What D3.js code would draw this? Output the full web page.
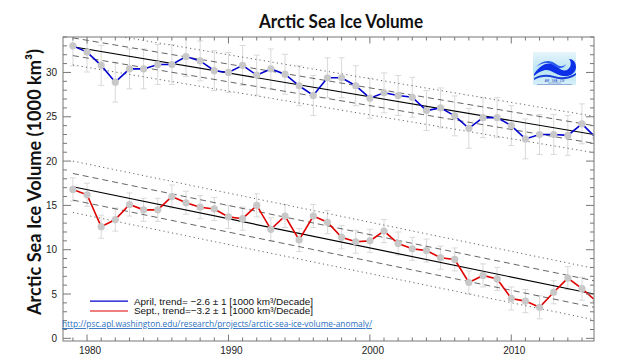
<!DOCTYPE html>
<html><head><meta charset="utf-8">
<script src="https://cdn.jsdelivr.net/npm/d3@7"></script>
<style>body{margin:0;background:#fff}svg{display:block}</style>
</head><body>
<svg id="c" width="640" height="360"></svg>
<script>
const years = [1979,1980,1981,1982,1983,1984,1985,1986,1987,1988,1989,1990,1991,1992,1993,1994,1995,1996,1997,1998,1999,2000,2001,2002,2003,2004,2005,2006,2007,2008,2009,2010,2011,2012,2013,2014,2015,2016];
const aprilVol = [33.0,32.3,30.8,28.9,30.4,30.4,30.9,30.9,31.8,31.3,30.2,30.0,30.8,29.7,30.4,29.8,28.5,27.4,29.4,29.4,28.5,27.1,27.7,27.4,27.2,25.7,26.0,25.1,23.7,24.9,24.9,24.0,22.5,23.0,23.0,22.9,24.2,22.6];
const septVol = [16.8,16.2,12.6,13.4,15.1,14.5,14.5,16.0,15.3,14.8,14.6,13.7,13.5,15.0,12.3,13.8,11.1,13.8,13.1,11.4,10.9,11.0,12.1,10.7,10.1,9.9,9.1,8.9,6.3,7.1,6.7,4.5,4.2,3.5,5.2,6.8,5.6,4.2];
const aprilErr = [2.25];
const septErr = [1.3];
// trend lines: [year, value] endpoints
const aprilTrend = [[1979, 32.9], [2015.85, 23.0]];
const septTrend = [[1979, 17.1], [2015.85, 5.0]];
// band offsets: [dashed, dotted]
const aprilBands = [1.0, 2.05];
const septBands = [1.5, 2.9];
const xMajor = [1980, 1990, 2000, 2010];
const yMajor = [0, 5, 10, 15, 20, 25, 30];
const legendLabels = ["April, trend= \u22122.6 \u00b1 1 [1000 km\u00b3/Decade]", "Sept., trend=\u22123.2 \u00b1 1 [1000 km\u00b3/Decade]"];
const titleText = "Arctic Sea Ice Volume";
const yTitle = "Arctic Sea Ice Volume (1000 km\u00b3)";
const urlText = "http://psc.apl.washington.edu/research/projects/arctic-sea-ice-volume-anomaly/";

const L = 63, R = 594, T = 37, B = 341;
const svg = d3.select("#c");
const x = d3.scaleLinear().domain([1978.3, 2015.85]).range([L, R]);
const y = d3.scaleLinear().domain([-0.3, 34.0]).range([B, T]);

const defs = svg.append("defs");
defs.append("clipPath").attr("id", "clip")
  .append("rect").attr("x", L).attr("y", T).attr("width", R - L).attr("height", B - T);
const grad = defs.append("linearGradient").attr("id", "lg").attr("x1", 0).attr("y1", 0).attr("x2", 0).attr("y2", 1);
grad.append("stop").attr("offset", "0%").attr("stop-color", "#e6f5fb");
grad.append("stop").attr("offset", "55%").attr("stop-color", "#b9e4f3");
grad.append("stop").attr("offset", "100%").attr("stop-color", "#d6eff8");

// title
svg.append("text").attr("x", 341).attr("y", 27.5).attr("text-anchor", "middle")
  .attr("font-family", "Lato, 'Open Sans', sans-serif").attr("font-weight", "bold")
  .attr("font-size", 19).attr("fill", "#111").text(titleText)
  .attr("textLength", 164).attr("lengthAdjust", "spacingAndGlyphs");

// y title
svg.append("text").attr("transform", "translate(41,182) rotate(-90)").attr("text-anchor", "middle")
  .attr("font-family", "Lato, 'Open Sans', sans-serif").attr("font-weight", "bold")
  .attr("font-size", 19).attr("fill", "#111").text(yTitle)
  .attr("textLength", 266).attr("lengthAdjust", "spacingAndGlyphs");

const plot = svg.append("g").attr("clip-path", "url(#clip)");

function drawSeries(vals, err, trend, bands, color) {
  const eb = plot.append("g").attr("stroke", "#d9d9d9").attr("stroke-width", 1);
  vals.forEach((v, i) => {
    const xx = x(years[i]);
    eb.append("line").attr("x1", xx).attr("x2", xx).attr("y1", y(v - err[0])).attr("y2", y(v + err[0]));
    eb.append("line").attr("x1", xx - 3).attr("x2", xx + 3).attr("y1", y(v - err[0])).attr("y2", y(v - err[0]));
    eb.append("line").attr("x1", xx - 3).attr("x2", xx + 3).attr("y1", y(v + err[0])).attr("y2", y(v + err[0]));
  });
  const styles = [{d: "6,4", c: "#555", w: 0.9}, {d: "1.2,3.2", c: "#555", w: 0.9}];
  bands.forEach((off, k) => {
    [1, -1].forEach(s => {
      plot.append("line")
        .attr("x1", x(trend[0][0])).attr("y1", y(trend[0][1] + s * off))
        .attr("x2", x(trend[1][0])).attr("y2", y(trend[1][1] + s * off))
        .attr("stroke", styles[k].c).attr("stroke-width", styles[k].w)
        .attr("stroke-dasharray", styles[k].d);
    });
  });
  plot.append("line")
    .attr("x1", x(trend[0][0])).attr("y1", y(trend[0][1]))
    .attr("x2", x(trend[1][0])).attr("y2", y(trend[1][1]))
    .attr("stroke", "#000").attr("stroke-width", 1.2);
  const line = d3.line().x((d, i) => x(years[i])).y(d => y(d));
  plot.append("path").datum(vals).attr("d", line).attr("fill", "none")
    .attr("stroke", color).attr("stroke-width", 1.6);
  plot.append("g").selectAll("circle").data(vals).join("circle")
    .attr("cx", (d, i) => x(years[i])).attr("cy", d => y(d)).attr("r", 3.6)
    .attr("fill", "#c8c8c8");
}
drawSeries(aprilVol, aprilErr, aprilTrend, aprilBands, "#0000d0");
drawSeries(septVol, septErr, septTrend, septBands, "#e00000");

// frame + ticks
const ax = svg.append("g").attr("stroke", "#777").attr("stroke-width", 1);
ax.append("rect").attr("x", L).attr("y", T).attr("width", R - L).attr("height", B - T).attr("fill", "none");
x.ticks(40).filter(t => Number.isInteger(t)).forEach(t => {
  const len = xMajor.includes(t) ? 6.5 : 3.5;
  ax.append("line").attr("x1", x(t)).attr("x2", x(t)).attr("y1", B).attr("y2", B - len);
  ax.append("line").attr("x1", x(t)).attr("x2", x(t)).attr("y1", T).attr("y2", T + len);
});
y.ticks(40).filter(t => Number.isInteger(t) && t >= 0).forEach(t => {
  const len = yMajor.includes(t) ? 8 : 4;
  ax.append("line").attr("y1", y(t)).attr("y2", y(t)).attr("x1", L).attr("x2", L + len);
  ax.append("line").attr("y1", y(t)).attr("y2", y(t)).attr("x1", R).attr("x2", R - len);
});
const lab = svg.append("g").attr("font-family", "'Liberation Sans', Arial, sans-serif").attr("font-size", 10).attr("fill", "#222");
xMajor.forEach(t => lab.append("text").attr("x", x(t) + 3).attr("y", 354).attr("text-anchor", "middle").text(t));
yMajor.forEach(t => lab.append("text").attr("x", 57).attr("y", y(t) + 3.5).attr("text-anchor", "end").text(t));

// legend
const lg = svg.append("g");
[["#0000d0", 301.2], ["#e00000", 311.0]].forEach((d, i) => {
  lg.append("line").attr("x1", 90).attr("x2", 128).attr("y1", d[1]).attr("y2", d[1]).attr("stroke", d[0]).attr("stroke-width", 1.2);
  lg.append("text").attr("x", 134).attr("y", d[1] + 3.3).attr("font-family", "'Liberation Sans', Arial, sans-serif")
    .attr("font-size", 9.4).attr("fill", "#111").text(legendLabels[i])
    .attr("textLength", 179).attr("lengthAdjust", "spacingAndGlyphs");
});
// url
svg.append("text").attr("x", 62).attr("y", 327).attr("font-family", "'Open Sans', 'Liberation Sans', sans-serif")
  .attr("font-size", 9).attr("fill", "#2a6fc0").attr("text-decoration", "underline").text(urlText)
  .attr("textLength", 310).attr("lengthAdjust", "spacingAndGlyphs");

// logo
const lo = svg.append("g").attr("transform", "translate(533,52)");
lo.append("rect").attr("width", 43).attr("height", 33).attr("fill", "url(#lg)");
lo.append("path").attr("d", "M1,22 C6,15 12,10 19,12 C25,14 28,20 34,18 C38,16 39,10 36,7 C40,7 43,10 43,15 C43,21 37,25 30,24 C23,23 18,17 12,18 C8,19 4,21 1,24 Z").attr("fill", "#0d2fe8");
lo.append("path").attr("d", "M3,15 C9,8 17,7 23,12 C27,15 30,15 33,12 C31,17 26,17 22,14 C16,10 10,10 3,15 Z").attr("fill", "#2a5cf2");
lo.append("path").attr("d", "M1,26 C8,22 14,22 21,24 C28,26 35,26 43,21 L43,23 C36,28 28,28 21,26 C14,24 8,24 1,28 Z").attr("fill", "#1a40d8");
lo.append("text").attr("x", 21.5).attr("y", 29.6).attr("text-anchor", "middle").attr("font-size", 2.8)
  .attr("font-family", "'Liberation Sans', sans-serif").attr("fill", "#2040c0").text("AIR  \u00b7  SEA  \u00b7  ICE");
lo.append("rect").attr("x", 15).attr("y", 30.6).attr("width", 13).attr("height", 0.7).attr("fill", "#7090c8");
lo.append("rect").attr("x", 4).attr("y", 32).attr("width", 35).attr("height", 0.7).attr("fill", "#7090c8");
</script>
</body></html>
